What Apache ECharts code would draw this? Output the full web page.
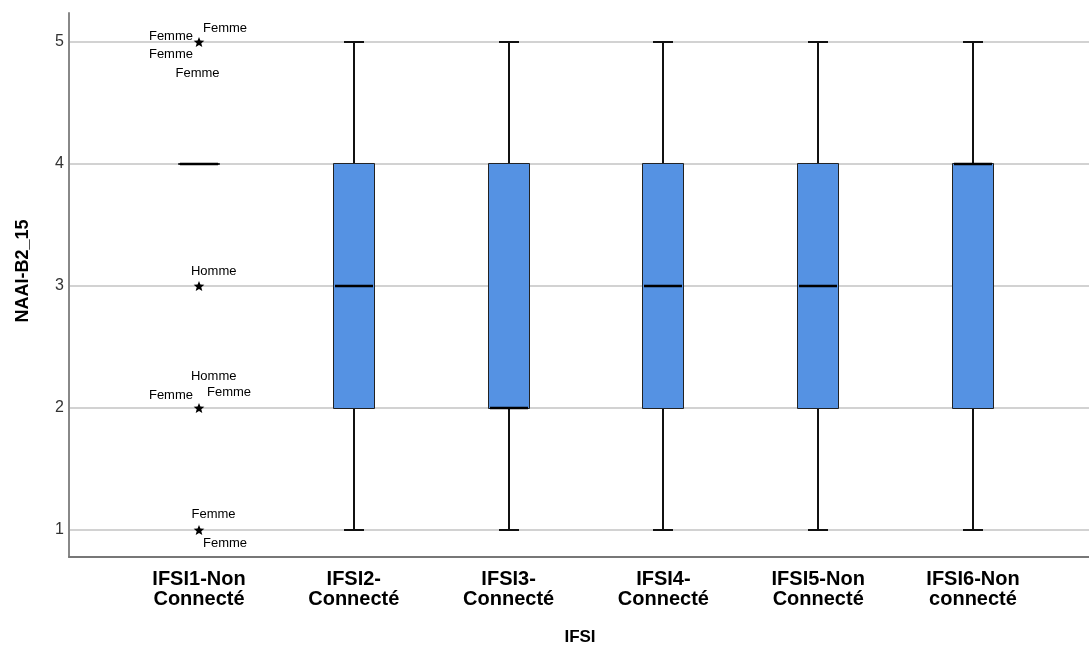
<!DOCTYPE html>
<html>
<head>
<meta charset="utf-8">
<script src="https://cdn.jsdelivr.net/npm/echarts@6/dist/echarts.min.js"></script>
<style>html,body{margin:0;padding:0;background:#fff;}#c{width:1089px;height:650px;}</style>
</head>
<body>
<div id="c"></div>
<script>
// ---- data ----
const categories = ['IFSI1-Non\nConnecté', 'IFSI2-\nConnecté', 'IFSI3-\nConnecté', 'IFSI4-\nConnecté', 'IFSI5-Non\nConnecté', 'IFSI6-Non\nconnecté'];
const whiskerLow  = [4, 1, 1, 1, 1, 1];
const quartile1   = [4, 2, 2, 2, 2, 2];
const medians     = [4, 3, 2, 3, 3, 4];
const quartile3   = [4, 4, 4, 4, 4, 4];
const whiskerHigh = [4, 5, 5, 5, 5, 5];
const outlierCategory = [0, 0, 0, 0];
const outlierValue    = [5, 3, 2, 1];
const outlierLabels   = [['Femme', 'Femme', 'Femme', 'Femme'], ['Homme'], ['Homme', 'Femme', 'Femme'], ['Femme', 'Femme']];
const yTicks = [1, 2, 3, 4, 5];
const xTitle = 'IFSI';
const yTitle = 'NAAI-B2_15';

// ---- layout (positions of case labels around each outlier star, px) ----
const labelPlacement = [
  [[-6, -6, 'right'], [4, -14, 'left'], [-6, 12, 'right'], [-1.5, 31, 'center']],
  [[14.7, -15, 'center']],
  [[14.7, -32, 'center'], [-6, -13, 'right'], [8, -16, 'left']],
  [[14.5, -16, 'center'], [4, 13, 'left']]
];

const Y_MIN = 0.7787, Y_MAX = 5.2377;
const FONT = '"Liberation Sans", Arial, sans-serif';

const boxData = categories.map((c, i) => [i, whiskerLow[i], quartile1[i], medians[i], quartile3[i], whiskerHigh[i]]);
const outData = outlierValue.map((v, i) => [outlierCategory[i], v, i]);

const chart = echarts.init(document.getElementById('c'), null, {renderer: 'canvas'});
chart.setOption({
  animation: false,
  backgroundColor: '#fff',
  grid: [
    {left: 69, right: 0, top: 13, height: 544, containLabel: false},
    {left: 121.6, width: 928.8, top: 13, height: 544, containLabel: false}
  ],
  xAxis: [
    {gridIndex: 0, type: 'value', min: 0, max: 1, axisLine: {show: true, onZero: false, lineStyle: {color: '#777', width: 2}},
     axisTick: {show: false}, axisLabel: {show: false}, splitLine: {show: false}},
    {gridIndex: 1, type: 'category', data: categories, boundaryGap: true,
     axisLine: {show: false}, axisTick: {show: false}, splitLine: {show: false},
     axisLabel: {interval: 0, margin: 12, color: '#000', fontFamily: FONT, fontWeight: 'bold', fontSize: 20, lineHeight: 20}}
  ],
  yAxis: [
    {gridIndex: 0, type: 'value', min: Y_MIN, max: Y_MAX, minInterval: 1, maxInterval: 1,
     axisLine: {show: true, lineStyle: {color: '#888', width: 2}}, axisTick: {show: false},
     axisLabel: {showMinLabel: false, showMaxLabel: false, margin: 5, color: '#333', fontFamily: FONT, fontSize: 16},
     splitLine: {show: true, showMinLine: false, showMaxLine: false, lineStyle: {color: '#d2d2d2', width: 2}}},
    {gridIndex: 1, type: 'value', min: Y_MIN, max: Y_MAX, show: false}
  ],
  graphic: [
    {type: 'text', x: 580, y: 637, style: {text: xTitle, font: 'bold 17px ' + FONT, fill: '#000', align: 'center', verticalAlign: 'middle'}},
    {type: 'text', x: 23.5, y: 271, rotation: Math.PI / 2, style: {text: yTitle, font: 'bold 18px ' + FONT, fill: '#000', align: 'center', verticalAlign: 'middle'}}
  ],
  series: [
    {
      type: 'custom', xAxisIndex: 1, yAxisIndex: 1, data: boxData, silent: true,
      renderItem: function (params, api) {
        const x = api.value(0);
        const pLo = api.coord([x, api.value(1)]);
        const pQ1 = api.coord([x, api.value(2)]);
        const pMd = api.coord([x, api.value(3)]);
        const pQ3 = api.coord([x, api.value(4)]);
        const pHi = api.coord([x, api.value(5)]);
        const cx = Math.round(pLo[0]);
        const bw = 40, cap = 20;
        const ls = {stroke: '#111', lineWidth: 2};
        return {type: 'group', children: [
          {type: 'line', shape: {x1: cx, y1: pLo[1], x2: cx, y2: pQ1[1]}, style: ls},
          {type: 'line', shape: {x1: cx, y1: pQ3[1], x2: cx, y2: pHi[1]}, style: ls},
          {type: 'line', shape: {x1: cx - cap / 2, y1: pLo[1], x2: cx + cap / 2, y2: pLo[1]}, style: ls},
          {type: 'line', shape: {x1: cx - cap / 2, y1: pHi[1], x2: cx + cap / 2, y2: pHi[1]}, style: ls},
          {type: 'rect', shape: {x: cx - bw / 2 - 0.5, y: pQ3[1] - 0.5, width: bw + 1, height: pQ1[1] - pQ3[1] + 1},
           style: {fill: '#5592e3', stroke: '#222', lineWidth: 1}},
          {type: 'line', shape: {x1: cx - bw / 2 + 1, y1: pMd[1], x2: cx + bw / 2 - 1, y2: pMd[1]}, style: {stroke: '#000', lineWidth: 2.5}}
        ]};
      }
    },
    {
      type: 'custom', xAxisIndex: 1, yAxisIndex: 1, data: outData, silent: true,
      renderItem: function (params, api) {
        const p = api.coord([api.value(0), api.value(1)]);
        const k = api.value(2);
        const pts = [];
        for (let j = 0; j < 10; j++) {
          const r = j % 2 === 0 ? 5.6 : 2.4;
          const a = -Math.PI / 2 + j * Math.PI / 5;
          pts.push([p[0] + r * Math.cos(a), p[1] + 0.5 + r * Math.sin(a)]);
        }
        const children = [{type: 'polygon', shape: {points: pts}, style: {fill: '#000'}}];
        outlierLabels[k].forEach((t, m) => {
          const pl = labelPlacement[k][m];
          children.push({type: 'text', x: p[0] + pl[0], y: p[1] + pl[1],
            style: {text: t, font: '13px ' + FONT, fill: '#000', align: pl[2], verticalAlign: 'middle'}});
        });
        return {type: 'group', children: children};
      }
    }
  ]
});
</script>
</body>
</html>
